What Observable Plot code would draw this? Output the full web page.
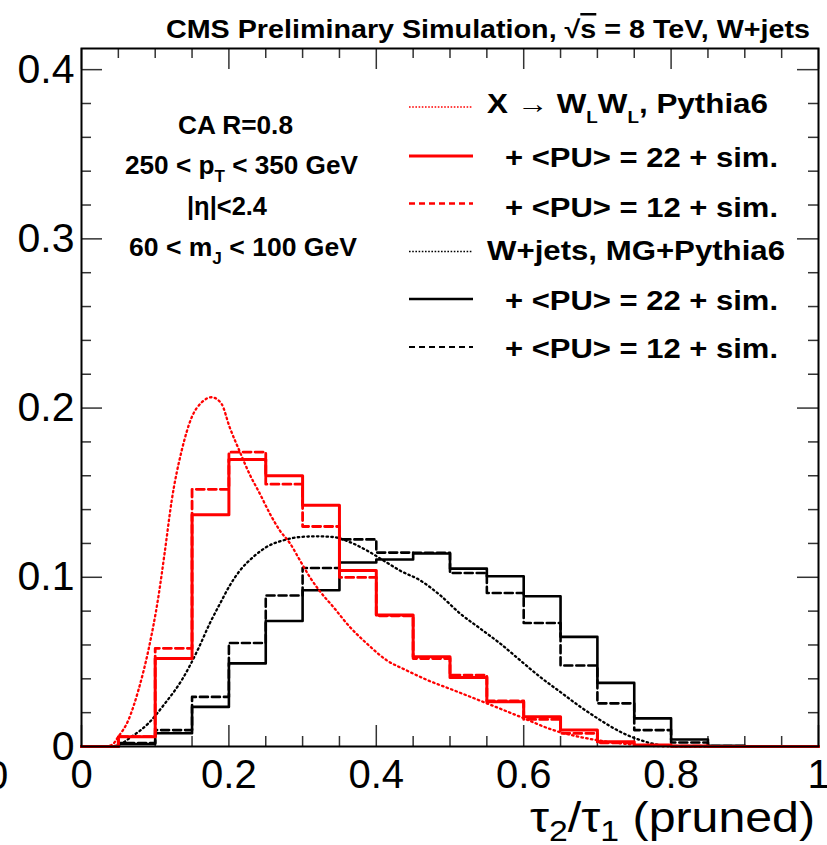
<!DOCTYPE html>
<html><head><meta charset="utf-8">
<script src="https://cdn.jsdelivr.net/npm/d3@7"></script>
<script src="https://cdn.jsdelivr.net/npm/@observablehq/plot@0.6"></script>
<style>body{margin:0;background:#fff}svg{display:block}</style>
</head><body><div id="chart"></div>
<script>
// ---- data ----
const binEdges = [0,0.05,0.1,0.15,0.2,0.25,0.3,0.35,0.4,0.45,0.5,0.55,0.6,0.65,0.7,0.75,0.8,0.85,0.9,0.95,1];
// X -> WLWL (signal), <PU>=22 + sim. / <PU>=12 + sim.
const sigPU22 = [0,0.0058,0.052,0.137,0.1696,0.160,0.1425,0.104,0.0777,0.053,0.0408,0.0264,0.0176,0.0097,0.0028,0.0009,0.0003,0,0,0];
const sigPU12 = [0,0.0058,0.058,0.152,0.174,0.155,0.130,0.0999,0.0772,0.052,0.0422,0.027,0.016,0.0078,0.0022,0.0005,0.0002,0,0,0];
// W+jets (background), <PU>=22 + sim. / <PU>=12 + sim.
const bkgPU22 = [0,0.0015,0.0078,0.0234,0.0491,0.0742,0.0923,0.1087,0.1105,0.1141,0.1051,0.1006,0.0888,0.0648,0.0376,0.0166,0.0041,0.0004,0,0];
const bkgPU12 = [0,0.002,0.0097,0.0293,0.0612,0.0892,0.1055,0.1224,0.1146,0.1145,0.1025,0.0907,0.073,0.0479,0.0255,0.0097,0.0024,0.0003,0,0];
// generator-level curves (Pythia6 / MG+Pythia6)
const sigGenX = [0,0.030,0.041,0.050,0.0636,0.0772,0.0908,0.1043,0.1133,0.1224,0.136,0.1496,0.1632,0.1768,0.190,0.201,0.215,0.228,0.242,0.2556,0.269,0.283,0.2964,0.310,0.323,0.3416,0.364,0.387,0.414,0.441,0.468,0.5046,0.55,0.595,0.64,0.686,0.731,0.776,0.82,1];
const sigGenY = [0,0,0.0009,0.0058,0.0156,0.0333,0.057,0.0884,0.116,0.1454,0.175,0.1946,0.2034,0.2064,0.2025,0.1887,0.174,0.161,0.1494,0.1376,0.1277,0.120,0.110,0.100,0.092,0.0825,0.0707,0.0609,0.051,0.045,0.0395,0.0333,0.0255,0.0176,0.0097,0.0048,0.0019,0.0003,0,0];
const bkgGenX = [0,0.040,0.050,0.068,0.0908,0.1133,0.136,0.1587,0.174,0.188,0.201,0.215,0.233,0.251,0.2736,0.2964,0.319,0.3416,0.364,0.387,0.4095,0.432,0.4594,0.4866,0.5137,0.541,0.568,0.595,0.622,0.6495,0.6767,0.704,0.731,0.758,0.785,0.82,1];
const bkgGenY = [0,0,0.0009,0.0058,0.0137,0.0255,0.0392,0.058,0.0727,0.0845,0.095,0.104,0.112,0.1179,0.1218,0.1238,0.1242,0.1238,0.1208,0.1159,0.110,0.104,0.0982,0.0894,0.0786,0.0697,0.0609,0.051,0.0412,0.0323,0.0235,0.0156,0.0087,0.0038,0.0009,0,0];
// ticks and tick labels
const xMajorTicks = [0,0.2,0.4,0.6,0.8,1];
const xTickLabels = ["0","0.2","0.4","0.6","0.8","1"];
const xMinorTicks = [0.05,0.1,0.15,0.25,0.3,0.35,0.45,0.5,0.55,0.65,0.7,0.75,0.85,0.9,0.95];
const yMajorTicks = [0,0.1,0.2,0.3,0.4];
const yTickLabels = ["0","0.1","0.2","0.3","0.4"];
const yMinorTicks = [0.02,0.04,0.06,0.08,0.12,0.14,0.16,0.18,0.22,0.24,0.26,0.28,0.32,0.34,0.36,0.38];

// ---- build ----
const FONT = "'Liberation Sans', Arial, Helvetica, sans-serif";
const W = 827, H = 845, ML = 81, MR = 9, MT = 48, MB = 99;
const FW = W - ML - MR, FH = H - MT - MB;
const RED = "#ff0000";

const histPoints = vals => binEdges.map((e, i) => ({x: e, y: vals[Math.min(i, vals.length - 1)]}));
const curvePoints = (xs, ys) => xs.map((x, i) => ({x, y: ys[i]}));

const tickStyle = {stroke: "#333", strokeWidth: 1.5};
const dotStyle = {strokeWidth: 2.3, strokeDasharray: "1.5,3.3"};
const svg = Plot.plot({
  width: W, height: H,
  marginLeft: ML, marginRight: MR, marginTop: MT, marginBottom: MB,
  style: {fontFamily: FONT, background: "white", color: "black"},
  x: {domain: [0, 1]},
  y: {domain: [0, 0.4125]},
  marks: [
    Plot.axisX({ticks: xMajorTicks, tickSize: 0, tickPadding: 13, fontSize: 40, label: null,
      tickFormat: d => xTickLabels[xMajorTicks.indexOf(d)]}),
    Plot.axisY({ticks: yMajorTicks, tickSize: 0, tickPadding: 7, fontSize: 41, label: null,
      tickFormat: d => yTickLabels[yMajorTicks.indexOf(d)]}),
    // inward ticks on all four sides
    Plot.tickX(xMajorTicks, {x: d => d, insetTop: FH - 21, ...tickStyle}),
    Plot.tickX(xMajorTicks, {x: d => d, insetBottom: FH - 21, ...tickStyle}),
    Plot.tickX(xMinorTicks, {x: d => d, insetTop: FH - 10, ...tickStyle}),
    Plot.tickX(xMinorTicks, {x: d => d, insetBottom: FH - 10, ...tickStyle}),
    Plot.tickY(yMajorTicks, {y: d => d, insetRight: FW - 21, ...tickStyle}),
    Plot.tickY(yMajorTicks, {y: d => d, insetLeft: FW - 21, ...tickStyle}),
    Plot.tickY(yMinorTicks, {y: d => d, insetRight: FW - 10, ...tickStyle}),
    Plot.tickY(yMinorTicks, {y: d => d, insetLeft: FW - 10, ...tickStyle}),
    // background (W+jets)
    Plot.line(curvePoints(bkgGenX, bkgGenY), {x: "x", y: "y", curve: "monotone-x", stroke: "black", ...dotStyle}),
    Plot.line(histPoints(bkgPU12), {x: "x", y: "y", curve: "step-after", stroke: "black", strokeWidth: 2.6, strokeDasharray: "8,4"}),
    Plot.line(histPoints(bkgPU22), {x: "x", y: "y", curve: "step-after", stroke: "black", strokeWidth: 2.6}),
    // signal
    Plot.line(curvePoints(sigGenX, sigGenY), {x: "x", y: "y", curve: "monotone-x", stroke: RED, ...dotStyle}),
    Plot.line(histPoints(sigPU12), {x: "x", y: "y", curve: "step-after", stroke: RED, strokeWidth: 2.8, strokeDasharray: "8,4"}),
    Plot.line(histPoints(sigPU22), {x: "x", y: "y", curve: "step-after", stroke: RED, strokeWidth: 3}),
    Plot.frame({stroke: "black", strokeWidth: 2})
  ]
});
document.getElementById("chart").append(svg);

// ---- texts ----
const s = d3.select(svg);
function addText(x, y, size, bold, len, parts, opts = {}) {
  const t = s.append("text").attr("x", x).attr("y", y).attr("font-size", size)
    .attr("font-family", FONT).attr("font-weight", bold ? "bold" : "normal")
    .attr("text-anchor", opts.anchor ?? "start")
    .attr("fill", "black").style("white-space", "pre");
  if (len) t.attr("textLength", len).attr("lengthAdjust", "spacingAndGlyphs");
  const subShift = opts.subShift ?? 0.33, subSize = opts.subSize ?? 0.65;
  let shift = 0;
  for (const p of parts) {
    const [str, kind] = typeof p === "string" ? [p, ""] : p;
    const ts = t.append("tspan").text(str);
    const target = kind === "sub" ? size * subShift : 0;
    if (target !== shift) { ts.attr("dy", target - shift); shift = target; }
    if (kind === "sub") ts.attr("font-size", size * subSize);
    if (kind === "over") ts.style("text-decoration", "overline");
  }
  return t;
}
// title
addText(166, 38, 25, true, 644, ["CMS Preliminary Simulation, √", ["s", "over"], " = 8 TeV, W+jets"]);
// selection annotations
addText(178, 134, 25, true, 115, ["CA R=0.8"]);
addText(125, 174, 25, true, 233, ["250 < p", ["T", "sub"], " < 350 GeV"]);
addText(187, 215, 25, true, 80, ["|η|<2.4"]);
addText(129, 256, 25, true, 228, ["60 < m", ["J", "sub"], " < 100 GeV"]);
// axis title
addText(530, 832, 43, false, 285, ["τ", ["2", "sub"], "/τ", ["1", "sub"], " (pruned)"], {subShift: 0.2, subSize: 0.7});
// clipped label at the far left edge
addText(-3, 789, 40, false, null, ["0"], {anchor: "middle"});

// legend
const legendRows = [
  {y: 107, base: 113, x: 487, len: 281, stroke: RED, width: 1.6, dash: "1.6,1.6", parts: ["X → W", ["L", "sub"], "W", ["L", "sub"], ", Pythia6"]},
  {y: 156, base: 167, x: 505, len: 273, stroke: RED, width: 3, dash: null, parts: ["+ <PU> = 22 + sim."]},
  {y: 203.5, base: 216.5, x: 505, len: 273, stroke: RED, width: 2.4, dash: "6,4", parts: ["+ <PU> = 12 + sim."]},
  {y: 251.5, base: 260, x: 487, len: 298, stroke: "black", width: 1.6, dash: "1.6,1.6", parts: ["W+jets, MG+Pythia6"]},
  {y: 299, base: 310, x: 505, len: 273, stroke: "black", width: 2.6, dash: null, parts: ["+ <PU> = 22 + sim."]},
  {y: 347, base: 358, x: 505, len: 273, stroke: "black", width: 2.2, dash: "6,4", parts: ["+ <PU> = 12 + sim."]}
];
for (const r of legendRows) {
  const ln = s.append("line").attr("x1", 409).attr("x2", 473).attr("y1", r.y).attr("y2", r.y)
    .attr("stroke", r.stroke).attr("stroke-width", r.width);
  if (r.dash) ln.attr("stroke-dasharray", r.dash);
  addText(r.x, r.base, 27, true, r.len, r.parts, {subShift: 0.37, subSize: 0.6});
}
</script>
</body></html>
